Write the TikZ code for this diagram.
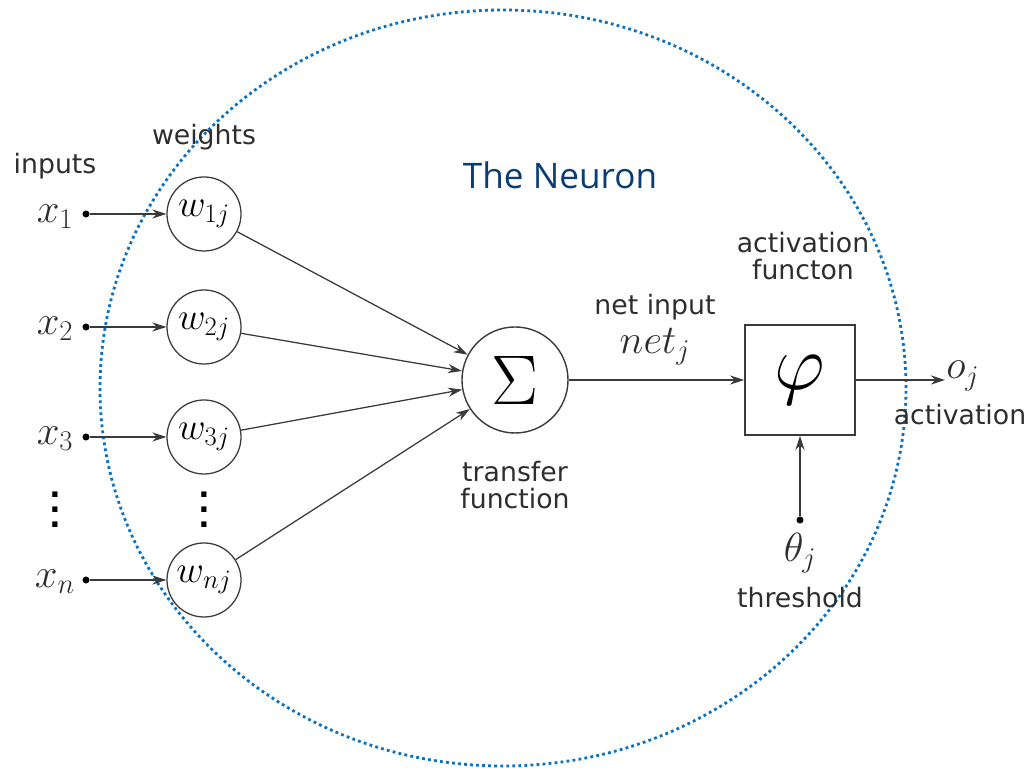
\documentclass[tikz,border=0pt]{standalone}
\usepackage{fix-cm}
\usepackage{amsmath}
\usepackage{fontspec}
\usepackage{tikz}
\usetikzlibrary{positioning, arrows.meta}
\newfontfamily\labelfont{DejaVu Sans}
\newfontfamily\titlefont{Open Sans}
\definecolor{linegray}{HTML}{3A3A3A}
\definecolor{textgray}{HTML}{2E2E2E}
\definecolor{neuronblue}{HTML}{0A3D73}
\definecolor{dotblue}{HTML}{0B72C2}
\newcommand{\tallvdots}{\vbox{\baselineskip=10.6pt\lineskiplimit=0pt
  \hbox{.}\hbox{.}\hbox{.}}}

\begin{document}
\begin{tikzpicture}[
    x=0.025cm, y=0.025cm,
    weight/.style={circle, draw=linegray, line width=0.9pt, minimum size=1.85cm,
      inner sep=0pt, font=\fontsize{27}{29}\selectfont},
    sumnode/.style={circle, draw=linegray, line width=1pt, minimum size=2.65cm,
      inner sep=0pt, font=\fontsize{50}{52}\selectfont},
    actbox/.style={rectangle, draw=linegray, line width=1.2pt, minimum size=2.75cm,
      inner sep=0pt, font=\fontsize{56}{58}\selectfont},
    dotnode/.style={circle, fill=black, inner sep=0pt, minimum size=5pt},
    lbl/.style={font=\labelfont\fontsize{19}{21}\selectfont, text=textgray,
      align=center, inner sep=0pt},
    mth/.style={font=\fontsize{29}{31}\selectfont, text=textgray, inner sep=0pt},
    vdot/.style={font=\labelfont\bfseries\fontsize{21}{23}\selectfont, text=black, inner sep=0pt},
    arr/.style={-{Stealth[length=10pt, width=6.5pt]}, line width=0.9pt, color=linegray},
  ]
  \useasboundingbox (0,0) rectangle (1035,768);

  % the dotted outline of the neuron
  \draw[dotblue, line width=2pt, dash pattern=on 2pt off 2.3pt]
    (503,380) ellipse [x radius=403, y radius=378];
  \node[font=\titlefont\fontsize{25}{27}\selectfont, text=neuronblue] (title) at (560,593) {The Neuron};

  % inputs and weights
  \node[lbl] (inputs) at (55,602) {inputs};
  \node[lbl] (weights) at (204,631) {weights};

  \node[mth] (x1) at (55,551) {$x_1$};
  \node[mth] (x2) at (55,439) {$x_2$};
  \node[mth] (x3) at (55,329) {$x_3$};
  \node[mth] (xn) at (55,186) {$x_n$};

  \node[dotnode] (d1) at (86,554) {};
  \node[dotnode] (d2) at (86,441) {};
  \node[dotnode] (d3) at (86,331) {};
  \node[dotnode] (dn) at (86,188) {};

  \node[weight] (w1) at (204,554) {$w_{1j}$};
  \node[weight] (w2) at (204,441) {$w_{2j}$};
  \node[weight] (w3) at (204,331) {$w_{3j}$};
  \node[weight] (wn) at (204,188) {$w_{nj}$};

  \node[vdot] (vdx) at (55,258) {\tallvdots};
  \node[vdot] (vdw) at (204,258) {\tallvdots};

  % summation and activation
  \node[sumnode] (sum) at (515,388) {$\Sigma$};
  \node[lbl] (transfer) at (515,283) {transfer\\[-2pt]function};

  \node[actbox] (phi) at (800,388) {$\varphi$};
  \node[lbl] (actfun) at (803,512) {activation\\[-2pt]functon};

  \node[lbl] (netin) at (655,461) {net input};
  \node[mth] (netj) at (655,421) {$net_j$};

  \coordinate (out) at (945,388);
  \node[mth, anchor=west] (oj) at (946,392) {$o_j$};
  \node[lbl] (activ) at (960,353) {activation};

  \node[dotnode] (thdot) at (800,248) {};
  \node[mth] (theta) at (800,215) {$\theta_j$};
  \node[lbl] (thresh) at (800,170) {threshold};

  % connectors
  \draw[arr] (d1) -- (w1);
  \draw[arr] (d2) -- (w2);
  \draw[arr] (d3) -- (w3);
  \draw[arr] (dn) -- (wn);
  \draw[arr] (w1) -- (sum);
  \draw[arr] (w2) -- (sum);
  \draw[arr] (w3) -- (sum);
  \draw[arr] (wn) -- (sum);
  \draw[arr] (sum) -- (phi);
  \draw[arr] (phi) -- (out);
  \draw[arr] (thdot) -- (phi);
\end{tikzpicture}
\end{document}
